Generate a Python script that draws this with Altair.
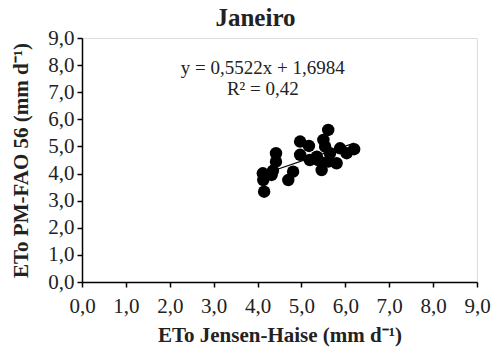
import altair as alt
import pandas as pd

eto_jh = [4.15, 4.12, 4.13, 4.32, 4.35, 4.42, 4.42, 4.70, 4.81, 4.97, 5.17, 4.97, 5.19,
          5.35, 5.46, 5.61, 5.50, 5.54, 5.65, 5.80, 5.88, 6.03, 6.20, 5.61, 5.38]
eto_pm = [3.33, 4.01, 3.76, 3.95, 4.10, 4.75, 4.44, 3.76, 4.07, 5.18, 5.02, 4.69, 4.50,
          4.62, 4.13, 5.61, 5.24, 4.99, 4.75, 4.38, 4.93, 4.75, 4.90, 4.44, 4.50]
slope, intercept = 0.5522, 1.6984
eq_lines = ["y = 0,5522x + 1,6984", "R² = 0,42"]
eq_x = [4.12, 4.12]
eq_y = [7.90, 7.12]
tick_vals = [0, 1, 2, 3, 4, 5, 6, 7, 8, 9]

df = pd.DataFrame({"x": eto_jh, "y": eto_pm})
xmin, xmax = min(eto_jh), max(eto_jh)
trend = pd.DataFrame({"x": [xmin, xmax], "y": [slope * xmin + intercept, slope * xmax + intercept]})
ann = pd.DataFrame({"x": eq_x, "y": eq_y, "t": eq_lines})

FONT = "Liberation Serif"
fmt = "replace(format(datum.value, '.1f'), '.', ',')"

xs = alt.Scale(domain=[0, 9], nice=False, zero=True)
ys = alt.Scale(domain=[0, 9], nice=False, zero=True)

xaxis = alt.Axis(title="ETo Jensen-Haise (mm d⁻¹)", values=tick_vals, labelExpr=fmt,
                 labelOverlap=False, labelFlush=False, labelPadding=8, titlePadding=8)
yaxis = alt.Axis(title="ETo PM-FAO 56 (mm d⁻¹)", values=tick_vals, labelExpr=fmt,
                 labelOverlap=False, labelFlush=False, labelPadding=3, titlePadding=16)

enc_x = alt.X("x:Q", scale=xs, axis=xaxis)
enc_y = alt.Y("y:Q", scale=ys, axis=yaxis)

points = alt.Chart(df).mark_circle(size=155, color="black", opacity=1).encode(x=enc_x, y=enc_y)
line = alt.Chart(trend).mark_line(color="black", strokeWidth=1.2).encode(x=enc_x, y=enc_y)
text = alt.Chart(ann).mark_text(font=FONT, fontSize=19, color="#222", align="center",
                                baseline="middle").encode(x=enc_x, y=enc_y, text="t:N")

chart = alt.layer(points, line, text).properties(
    width=395, height=244,
    title=alt.TitleParams("Janeiro", font=FONT, fontSize=25, fontWeight="bold",
                          color="#222", anchor="middle", dx=-24, dy=10, offset=6),
    autosize=alt.AutoSizeParams(type="none"),
    padding={"left": 82, "top": 38, "right": 15, "bottom": 72},
).configure_view(stroke=None).configure(background="white").configure_axis(
    grid=False, domainColor="black", tickColor="black", tickSize=5, domainWidth=1.5,
    tickWidth=1.5, labelFont=FONT, labelFontSize=21, labelColor="#222",
    labelOverlap=False, labelFlush=False, titleFont=FONT, titleFontSize=21,
    titleFontWeight="bold", titleColor="#222"
)

chart.save("out.html", embed_options={"renderer": "svg", "actions": False})
